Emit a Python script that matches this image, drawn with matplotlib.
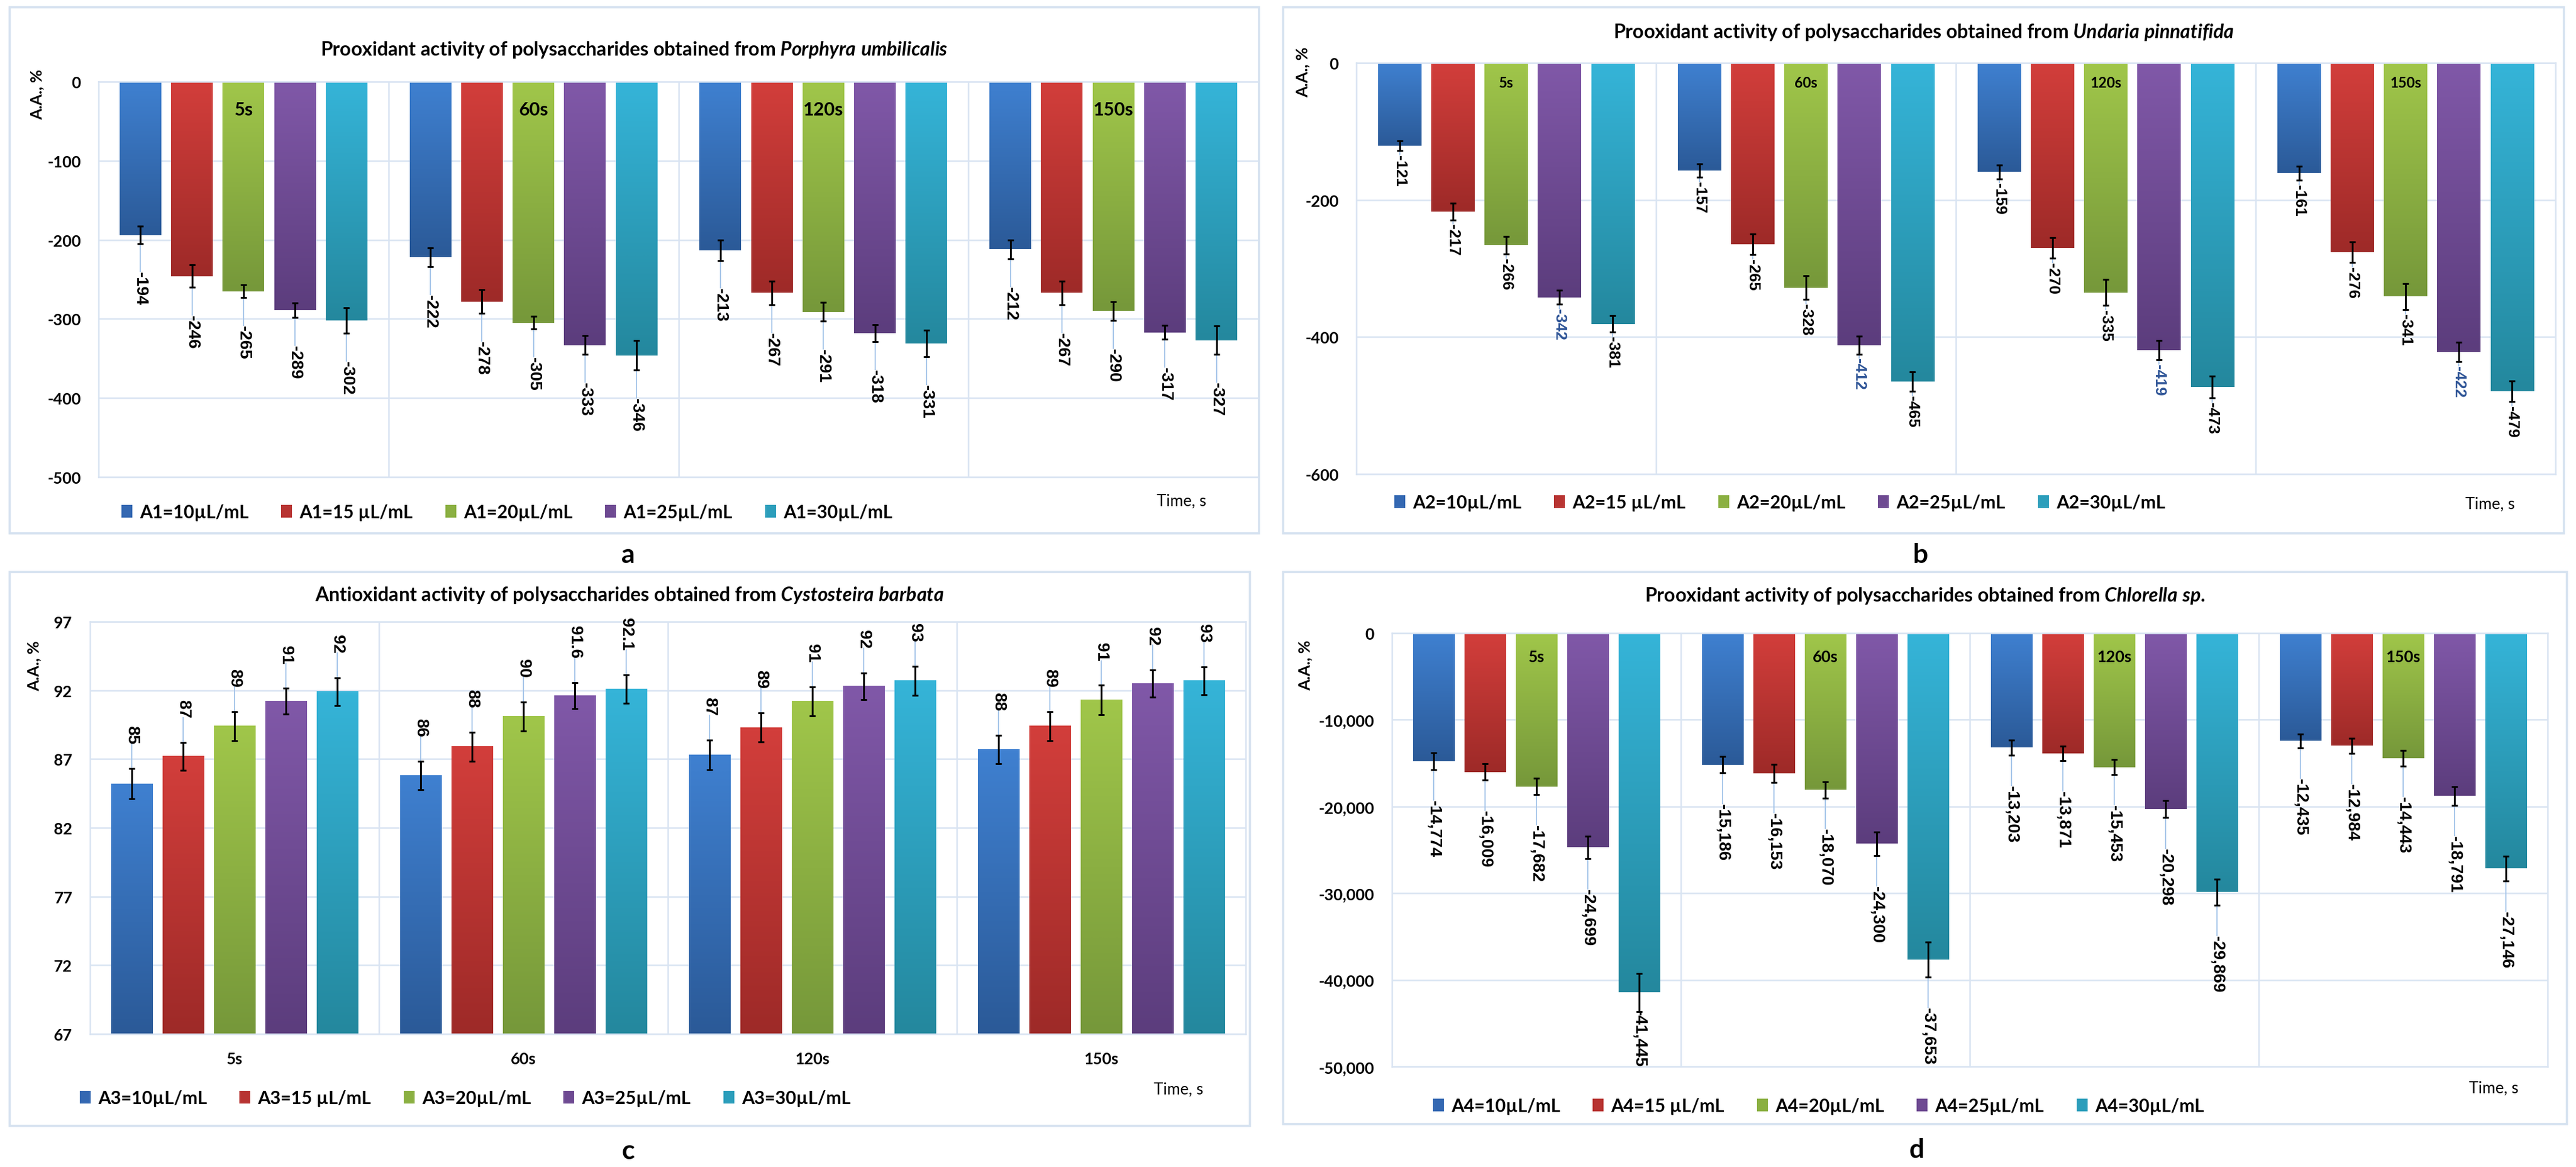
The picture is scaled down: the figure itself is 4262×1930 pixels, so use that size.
import numpy as np
import matplotlib
matplotlib.use("Agg")
import matplotlib.pyplot as plt
from matplotlib.colors import LinearSegmentedColormap
from matplotlib.patches import Rectangle, Patch
from matplotlib.ticker import FuncFormatter
from matplotlib.font_manager import FontProperties
import matplotlib.transforms as mtrans

CAL = ['Lato', 'DejaVu Sans']
ARI = ['Liberation Sans', 'DejaVu Sans']
plt.rcParams['font.family'] = CAL
plt.rcParams['mathtext.fontset'] = 'custom'
plt.rcParams['mathtext.rm'] = 'Lato:bold'
plt.rcParams['mathtext.it'] = 'Lato:italic:bold'
plt.rcParams['mathtext.bf'] = 'Lato:bold'

# ---- data (rows = time, cols = concentration) ----
times = ["5s", "60s", "120s", "150s"]
doses = ["10µL/mL", "15 µL/mL", "20µL/mL", "25µL/mL", "30µL/mL"]

a_vals = [[-194, -246, -265, -289, -302],
          [-222, -278, -305, -333, -346],
          [-213, -267, -291, -318, -331],
          [-212, -267, -290, -317, -327]]
a_err = [[11, 14, 8, 9, 16],
         [12, 15, 8, 12, 19],
         [13, 15, 12, 11, 17],
         [12, 15, 12, 9, 18]]

b_vals = [[-121, -217, -266, -342, -381],
          [-157, -265, -328, -412, -465],
          [-159, -270, -335, -419, -473],
          [-161, -276, -341, -422, -479]]
b_err = [[7, 12, 13, 10, 12],
         [10, 15, 17, 13, 14],
         [10, 15, 19, 14, 16],
         [10, 15, 19, 14, 15]]

c_vals = [[85.2, 87.2, 89.4, 91.2, 91.9],
          [85.8, 87.9, 90.1, 91.6, 92.1],
          [87.3, 89.3, 91.2, 92.3, 92.7],
          [87.7, 89.4, 91.3, 92.5, 92.7]]
c_err = [[1.1, 1.0, 1.05, 0.95, 1.0],
         [1.03, 1.05, 1.05, 0.95, 1.02],
         [1.06, 1.06, 1.05, 0.98, 1.05],
         [1.03, 1.05, 1.06, 1.0, 1.02]]
c_text = [["85", "87", "89", "91", "92"],
          ["86", "88", "90", "91.6", "92.1"],
          ["87", "89", "91", "92", "93"],
          ["88", "89", "91", "92", "93"]]

d_vals = [[-14774, -16009, -17682, -24699, -41445],
          [-15186, -16153, -18070, -24300, -37653],
          [-13203, -13871, -15453, -20298, -29869],
          [-12435, -12984, -14443, -18791, -27146]]
d_err = [[1000, 950, 950, 1300, 2200],
         [950, 1040, 950, 1340, 2030],
         [860, 820, 860, 1000, 1500],
         [780, 860, 900, 1080, 1430]]

# ---- style ----
tops = ['#3F80D0', '#D23E3B', '#A0C64A', '#8058A8', '#35B4D8']
bots = ['#2B5A98', '#9E2A28', '#76983A', '#5C3D7D', '#24889E']
mids = ['#3468B2', '#B83432', '#8BB042', '#6E4A92', '#2C9EBB']
cmaps = [LinearSegmentedColormap.from_list('g%d' % j, [bots[j], tops[j]]) for j in range(5)]
grid_c = '#D9E4F2'
box_c = '#D6E2F0'
lead_c = '#A8C7EA'
pitch, bw = 0.1777, 0.1438

W, H = 4262, 1931
fig = plt.figure(figsize=(W / 200, H / 200), dpi=200)


def fx(p):
    return p / W


def fy(p):
    return 1 - p / H


grad = np.linspace(0, 1, 64).reshape(-1, 1)
all_labels = []


def panel(box, area, vals, errs, ylim, step, title, prefix, gap,
          label_fmt, label_size, inside_size=None, inside_y=None,
          xticks=False, floor=0.0, label_colors=None,
          legend_xy=None, time_xy=None, ylab_xy=None, letter=None, title_y=None):
    # panel frame
    fig.add_artist(Rectangle((fx(box[0]), fy(box[3])), fx(box[2]) - fx(box[0]),
                             fy(box[1]) - fy(box[3]), transform=fig.transFigure,
                             fill=False, ec=box_c, lw=1.3))
    ax = fig.add_axes([fx(area[0]), fy(area[3]), fx(area[2]) - fx(area[0]),
                       fy(area[1]) - fy(area[3])])
    vals = np.array(vals, dtype=float)
    errs = np.array(errs, dtype=float)
    neg = vals.max() < 0
    for i in range(len(times)):
        for j in range(5):
            x = i + (j - 2) * pitch
            v = vals[i, j]
            ax.imshow(grad, extent=[x - bw / 2, x + bw / 2, min(v, floor), max(v, floor)],
                      cmap=cmaps[j], aspect='auto', origin='lower',
                      interpolation='bilinear', zorder=2)
    for j in range(5):
        xs = np.arange(len(times)) + (j - 2) * pitch
        ax.errorbar(xs, vals[:, j], yerr=errs[:, j], fmt='none', ecolor='black',
                    elinewidth=1.1, capsize=1.8, capthick=1.1, zorder=4)
    for i in range(len(times)):
        for j in range(5):
            x = i + (j - 2) * pitch
            v = vals[i, j]
            e = errs[i, j]
            col = label_colors[j] if label_colors else 'black'
            if neg:
                y0 = v - e
                y1 = y0 - gap
                t = ax.text(x, y1, label_fmt(i, j, v), rotation=270, ha='center', va='top',
                            fontsize=label_size, fontweight='bold', family=ARI, color=col,
                            zorder=5, clip_on=False)
            else:
                y0 = v + e
                y1 = y0 + gap
                t = ax.text(x, y1, label_fmt(i, j, v), rotation=270, ha='center', va='bottom',
                            fontsize=label_size, fontweight='bold', family=ARI, color=col,
                            zorder=5, clip_on=False)
            ln = None
            if abs(gap) > 0:
                ln, = ax.plot([x, x], [y0, y1], color=lead_c, lw=0.7, zorder=3)
            all_labels.append((ax, t, ln, y0))
    ax.set_xlim(-0.5, len(times) - 0.5)
    ax.set_ylim(*ylim)
    ax.set_yticks(np.arange(ylim[0], ylim[1] + step / 2, step))
    ax.yaxis.set_major_formatter(FuncFormatter(lambda v, p: f"{v:,.0f}"))
    ax.set_xticks([0.5, 1.5, 2.5], minor=True)
    if xticks:
        ax.set_xticks(range(len(times)))
        ax.set_xticklabels(times)
    else:
        ax.set_xticks([])
    ax.yaxis.grid(True, color=grid_c, lw=0.9)
    ax.xaxis.grid(True, which='minor', color=grid_c, lw=0.9)
    ax.set_axisbelow(True)
    ax.tick_params(axis='both', which='both', length=0, labelsize=9.5, pad=10.5)
    for lab in ax.get_yticklabels() + ax.get_xticklabels():
        lab.set_fontweight('bold')
    for s in ax.spines.values():
        s.set_color(grid_c)
        s.set_linewidth(0.9)
    if inside_size:
        tr = mtrans.blended_transform_factory(ax.transData, ax.transAxes)
        for i, t in enumerate(times):
            ax.text(i, inside_y, t, transform=tr, ha='center', va='center',
                    fontsize=inside_size, fontweight='bold', zorder=6)
    # title
    cx = (box[0] + box[2]) / 2
    fig.text(fx(cx), fy(title_y), title, ha='center', va='center',
             fontsize=11.5, fontweight='bold')
    handles = [Patch(fc=mids[j], ec='none') for j in range(5)]
    ax.legend(handles, [prefix + d for d in doses], loc='center left',
              bbox_to_anchor=(fx(legend_xy[0]), fy(legend_xy[1])),
              bbox_transform=fig.transFigure, ncol=5, frameon=False,
              prop=FontProperties(family=CAL, weight='bold', size=10.8),
              handlelength=0.6, handleheight=0.7, handletextpad=0.4,
              columnspacing=1.8, borderaxespad=0, borderpad=0)
    fig.text(fx(time_xy[0]), fy(time_xy[1]), "Time, s", ha='center', va='center',
             fontsize=9.5)
    fig.text(fx(ylab_xy[0]), fy(ylab_xy[1]), "A.A., %", rotation=90, ha='center',
             va='center', fontsize=9.5, fontweight='bold')
    fig.text(fx(letter[1]), fy(letter[2]), letter[0], ha='center', va='center',
             fontsize=16, fontweight='bold')
    return ax


panel(box=(16, 13, 2083, 883), area=(163, 136, 2082, 790), vals=a_vals, errs=a_err,
      ylim=(-500, 0), step=100,
      title=r"Prooxidant activity of polysaccharides obtained from $\mathit{Porphyra\ umbilicalis}$",
      prefix="A1=", gap=35, label_fmt=lambda i, j, v: f"{v:.0f}", label_size=10,
      inside_size=11, inside_y=0.93, legend_xy=(201, 848), time_xy=(1955, 829),
      ylab_xy=(61, 156), letter=('a', 1039, 918), title_y=83)

panel(box=(2123, 13, 4242, 883), area=(2244, 105, 4228, 785), vals=b_vals, errs=b_err,
      ylim=(-600, 0), step=200,
      title=r"Prooxidant activity of polysaccharides obtained from $\mathit{Undaria\ pinnatifida}$",
      prefix="A2=", gap=6, label_fmt=lambda i, j, v: f"{v:.0f}", label_size=9.3,
      inside_size=8.5, inside_y=0.952, legend_xy=(2307, 832), time_xy=(4120, 834),
      ylab_xy=(2155, 119), letter=('b', 3177, 918), title_y=54,
      label_colors=['black', 'black', 'black', '#2F5597', 'black'])

panel(box=(16, 947, 2068, 1863), area=(149, 1029, 2061, 1711), vals=c_vals, errs=c_err,
      ylim=(67, 97), step=5,
      title=r"Antioxidant activity of polysaccharides obtained from $\mathit{Cystosteira\ barbata}$",
      prefix="A3=", gap=1.8, label_fmt=lambda i, j, v: c_text[i][j], label_size=10,
      xticks=True, floor=67, legend_xy=(132, 1817), time_xy=(1950, 1802),
      ylab_xy=(56, 1101), letter=('c', 1039, 1904), title_y=985)

panel(box=(2123, 947, 4247, 1860), area=(2303, 1048, 4215, 1765), vals=d_vals, errs=d_err,
      ylim=(-50000, 0), step=10000,
      title=r"Prooxidant activity of polysaccharides obtained from $\mathit{Chlorella\ sp.}$",
      prefix="A4=", gap=3500, label_fmt=lambda i, j, v: f"{v:,.0f}", label_size=10,
      inside_size=9.5, inside_y=0.946, legend_xy=(2371, 1830), time_xy=(4126, 1800),
      ylab_xy=(2159, 1100), letter=('d', 3171, 1902), title_y=986)

# keep data labels inside the plot area
fig.canvas.draw()
r = fig.canvas.get_renderer()
for ax, t, ln, y0 in all_labels:
    bb = t.get_window_extent(r)
    ab = ax.get_window_extent(r)
    if bb.y0 < ab.y0:
        inv = ax.transData.inverted()
        dy = inv.transform((0, ab.y0))[1] - inv.transform((0, bb.y0))[1]
        x, y = t.get_position()
        t.set_position((x, y + dy))
        if ln is not None:
            ln.set_visible(False)

fig.savefig("out.png", dpi=200, facecolor='white')
